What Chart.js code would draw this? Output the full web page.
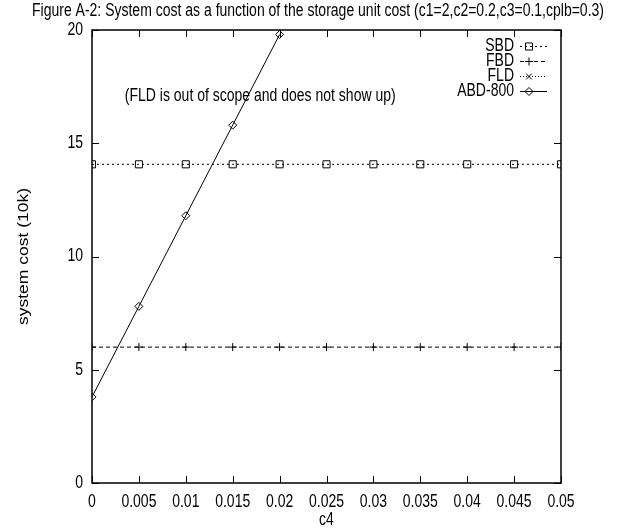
<!DOCTYPE html>
<html>
<head>
<meta charset="utf-8">
<script src="https://cdn.jsdelivr.net/npm/chart.js@4.4.1/dist/chart.umd.min.js"></script>
<style>
    body { margin: 0; background: #fff; }
</style>
</head>
<body>
<canvas id="cost-chart" width="623" height="532"></canvas>
<script>
const c4Values = [0, 0.005, 0.01, 0.015, 0.02, 0.025, 0.03, 0.035, 0.04, 0.045, 0.05];
const xTickLabels = ['0', '0.005', '0.01', '0.015', '0.02', '0.025', '0.03', '0.035', '0.04', '0.045', '0.05'];
const yTickLabels = ['0', '5', '10', '15', '20'];
const sbdCost = [14.07, 14.07, 14.07, 14.07, 14.07, 14.07, 14.07, 14.07, 14.07, 14.07, 14.07];
const fbdCost = [6.0, 6.0, 6.0, 6.0, 6.0, 6.0, 6.0, 6.0, 6.0, 6.0, 6.0];
const fldC4 = [];
const fldCost = [];
const abdC4 = [0, 0.005, 0.01, 0.015, 0.02];
const abdCost = [3.8, 7.8, 11.8, 15.8, 19.8];

const titleText = 'Figure A-2: System cost as a function of the storage unit cost (c1=2,c2=0.2,c3=0.1,cplb=0.3)';
const noteText = '(FLD is out of scope and does not show up)';
const xTitle = 'c4';
const yTitle = 'system cost (10k)';

const FONT = '17.5px "Liberation Sans", Arial, sans-serif';
// the original plot is squeezed horizontally, so is its lettering
const SX = 0.8;

function toPoints(xs, ys) {
    return xs.map((x, i) => ({ x: x, y: ys[i] }));
}

function squeezedText(ctx, text, x, y, align, rotate) {
    ctx.save();
    ctx.translate(x, y);
    ctx.scale(SX, 1);
    if (rotate) ctx.rotate(-Math.PI / 2);
    ctx.textAlign = align;
    ctx.textBaseline = 'middle';
    ctx.fillText(text, 0, 0);
    ctx.restore();
}

// border + inward ticks on all four sides, gnuplot style
const gnuplotFrame = {
    id: 'gnuplotFrame',
    afterDatasetsDraw(chart) {
        const { ctx, chartArea: a, scales: { x, y } } = chart;
        ctx.save();
        ctx.strokeStyle = '#000';
        ctx.lineWidth = 1;
        ctx.beginPath();
        x.ticks.forEach(t => {
            const px = Math.round(x.getPixelForValue(t.value)) + 0.5;
            ctx.moveTo(px, a.bottom);
            ctx.lineTo(px, a.bottom - 7);
            ctx.moveTo(px, a.top);
            ctx.lineTo(px, a.top + 7);
        });
        y.ticks.forEach(t => {
            const py = Math.round(y.getPixelForValue(t.value)) + 0.5;
            ctx.moveTo(a.left, py);
            ctx.lineTo(a.left + 7, py);
            ctx.moveTo(a.right, py);
            ctx.lineTo(a.right - 7, py);
        });
        ctx.stroke();
        ctx.lineWidth = 1.5;
        ctx.strokeRect(a.left, a.top, a.right - a.left, a.bottom - a.top);
        ctx.restore();
    }
};

const gnuplotText = {
    id: 'gnuplotText',
    afterDraw(chart) {
        const { ctx, chartArea: a, scales: { x, y } } = chart;
        ctx.save();
        ctx.fillStyle = '#000';
        ctx.font = FONT;

        squeezedText(ctx, titleText, 318, 11, 'center');
        squeezedText(ctx, noteText, x.getPixelForValue(0.0035), y.getPixelForValue(17.1), 'left');

        x.ticks.forEach((t, i) => {
            squeezedText(ctx, xTickLabels[i], x.getPixelForValue(t.value), a.bottom + 19, 'center');
        });
        y.ticks.forEach((t, i) => {
            squeezedText(ctx, yTickLabels[i], a.left - 9, y.getPixelForValue(t.value), 'right');
        });
        squeezedText(ctx, xTitle, (a.left + a.right) / 2, a.bottom + 37, 'center');
        squeezedText(ctx, yTitle, 24, (a.top + a.bottom) / 2, 'center', true);

        // key
        chart.data.datasets.forEach((ds, i) => {
            const ky = 46 + i * 15;
            ctx.fillStyle = '#000';
            squeezedText(ctx, ds.label, 514, ky, 'right');
            ctx.strokeStyle = '#000';
            ctx.lineWidth = 1;
            ctx.setLineDash(ds.borderDash || []);
            ctx.beginPath();
            ctx.moveTo(520, ky + 0.5);
            ctx.lineTo(547, ky + 0.5);
            ctx.stroke();
            ctx.setLineDash([]);
            ctx.fillStyle = 'rgba(0,0,0,0)';
            Chart.helpers.drawPoint(ctx, {
                pointStyle: ds.pointStyle,
                radius: ds.pointRadius,
                borderWidth: 1,
                rotation: 0
            }, 529, ky + 0.5);
        });
        ctx.restore();
    }
};

const ctx = document.getElementById('cost-chart');

new Chart(ctx, {
    type: 'line',
    data: {
        datasets: [{
            label: 'SBD',
            data: toPoints(c4Values, sbdCost),
            borderColor: '#000',
            borderWidth: 1,
            borderDash: [2, 3],
            pointStyle: 'rect',
            pointRadius: 5,
            pointBorderWidth: 1,
            pointBorderColor: '#000',
            pointBackgroundColor: 'rgba(0,0,0,0)',
            fill: false
        }, {
            label: 'FBD',
            data: toPoints(c4Values, fbdCost),
            borderColor: '#000',
            borderWidth: 1,
            borderDash: [4, 3],
            pointStyle: 'cross',
            pointRadius: 4,
            pointBorderWidth: 1,
            pointBorderColor: '#000',
            fill: false
        }, {
            label: 'FLD',
            data: toPoints(fldC4, fldCost),
            borderColor: '#000',
            borderWidth: 1,
            borderDash: [1, 2],
            pointStyle: 'crossRot',
            pointRadius: 4,
            pointBorderWidth: 1,
            pointBorderColor: '#000',
            fill: false
        }, {
            label: 'ABD-800',
            data: toPoints(abdC4, abdCost),
            borderColor: '#000',
            borderWidth: 1,
            pointStyle: 'rectRot',
            pointRadius: 4,
            pointBorderWidth: 1,
            pointBorderColor: '#000',
            pointBackgroundColor: 'rgba(0,0,0,0)',
            fill: false
        }]
    },
    options: {
        responsive: false,
        animation: false,
        devicePixelRatio: 1,
        layout: {
            padding: { top: 30, right: 62, left: 0, bottom: 0 }
        },
        plugins: {
            legend: { display: false },
            tooltip: { enabled: false },
            title: { display: false }
        },
        scales: {
            x: {
                type: 'linear',
                min: 0,
                max: 0.05,
                afterFit: (scale) => { scale.height = 49; },
                ticks: { stepSize: 0.005, display: false },
                grid: { display: false, drawTicks: false },
                border: { display: false }
            },
            y: {
                type: 'linear',
                min: 0,
                max: 20,
                afterFit: (scale) => { scale.width = 92; },
                ticks: { stepSize: 5, display: false },
                grid: { display: false, drawTicks: false },
                border: { display: false }
            }
        }
    },
    plugins: [gnuplotFrame, gnuplotText]
});
</script>
</body>
</html>
